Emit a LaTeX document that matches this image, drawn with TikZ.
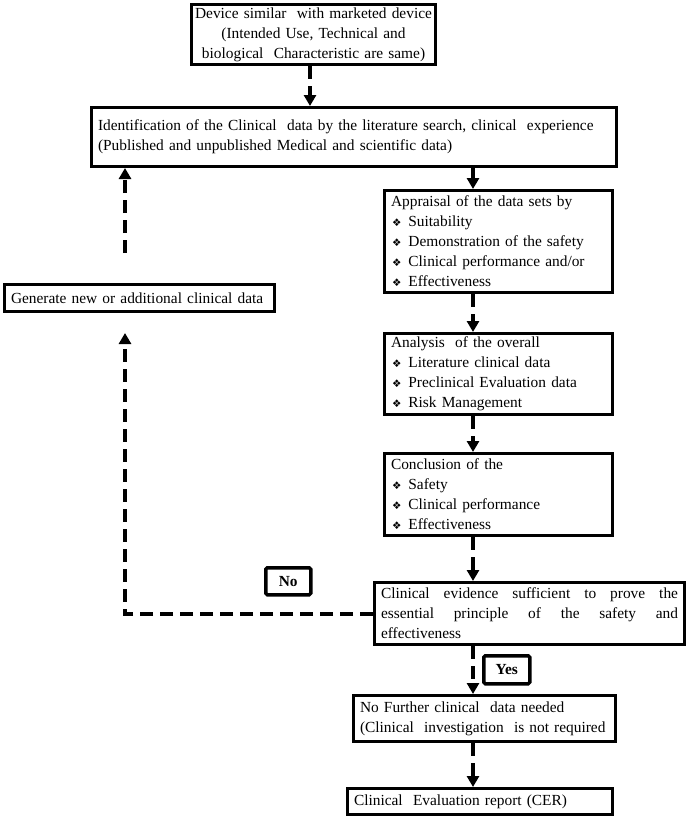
\documentclass[tikz,border=0pt]{standalone}
\usepackage{fontspec}
\setmainfont{Liberation Serif}
\newfontfamily\dingfont{DejaVu Sans}
\usepackage{tikz}
\usetikzlibrary{shapes,arrows.meta}
\tikzstyle{block} = [rectangle, draw, line width=3pt, anchor=north west,
    inner xsep=6.5pt, inner ysep=0pt, align=left, font=\fontsize{15.4}{20}\selectfont]
\tikzstyle{tagbox} = [rectangle, draw, line width=3.5pt, rounded corners=1.5pt, anchor=north west,
    inner sep=0pt, font=\fontsize{15.4}{20}\selectfont\bfseries]
\tikzstyle{line} = [draw, line width=4pt, dash pattern=on 13pt off 7pt,
    -{Triangle[width=12pt,length=11pt]}]
\newcommand{\itm}{\\\hspace*{1pt}{\dingfont\fontsize{10.5}{10}\selectfont\char"2756}\hspace{7pt}}

\begin{document}
\begin{tikzpicture}[x=1pt,y=-1pt]
      \useasboundingbox (0,0) rectangle (685,816);
      % boxes of the main path
      \node[block, align=center, minimum width=244pt, minimum height=60pt, text width=240pt, inner xsep=2pt] (dev) at (190,3)
        {Device similar\ \ with marketed device\\(Intended Use, Technical and\\biological\ \ Characteristic are same)};
      \node[block, minimum width=525pt, minimum height=59pt, text width=512pt] (ident) at (90,106)
        {Identification of the Clinical\ \ data by the literature search, clinical\ \ experience\\(Published and unpublished Medical and scientific data)};
      \node[block, minimum width=228pt, minimum height=102pt, text width=215pt] (appr) at (383,189)
        {Appraisal of the data sets by\itm Suitability\itm Demonstration of the safety\itm Clinical performance and/or\itm Effectiveness};
      \node[block, minimum width=228pt, minimum height=81pt, text width=215pt] (anal) at (383,332)
        {Analysis\ \ of the overall\itm Literature clinical data\itm Preclinical Evaluation data\itm Risk Management};
      \node[block, minimum width=228pt, minimum height=82pt, text width=215pt] (concl) at (383,452)
        {Conclusion of the\itm Safety\itm Clinical performance\itm Effectiveness};
      \node[block, align=justify, minimum width=310pt, minimum height=62pt, text width=297pt] (evid) at (373,581)
        {Clinical evidence sufficient to prove the\linebreak essential principle of the safety and\linebreak effectiveness};
      \node[block, minimum width=262pt, minimum height=46pt, text width=249pt] (nofur) at (352,694)
        {No Further clinical\ \ data needed\\(Clinical\ \ investigation\ \ is not required};
      \node[block, minimum width=265pt, minimum height=26pt, text width=252pt] (cer) at (346,787)
        {Clinical\ \ Evaluation report (CER)};
      \node[block, minimum width=270pt, minimum height=27pt, text width=257pt] (gen) at (3,283)
        {Generate new or additional clinical data};
      \node[tagbox, minimum width=45pt, minimum height=27pt] (no) at (264,566) {No};
      \node[tagbox, minimum width=46pt, minimum height=28pt] (yes) at (482,654) {Yes};
      % x positions of the connectors
      \coordinate (topx) at (310,0);
      \coordinate (spine) at (473,0);
      \coordinate (back) at (125,333);
      \draw[line] (dev.south -| topx) -- (ident.north -| topx);
      \draw[line] (ident.south -| spine) -- (appr.north -| spine);
      \draw[line] (appr.south -| spine) -- (anal.north -| spine);
      \draw[line] (anal.south -| spine) -- (concl.north -| spine);
      \draw[line] (concl.south -| spine) -- (evid.north -| spine);
      \draw[line] (evid.south -| spine) -- (nofur.north -| spine);
      \draw[line] (nofur.south -| spine) -- (cer.north -| spine);
      % feedback loop
      \draw[line] (evid.west) -| (back);
      \draw[line] ([yshift=30pt]gen.north -| back) -- (ident.south -| back);
    \end{tikzpicture}
\end{document}
